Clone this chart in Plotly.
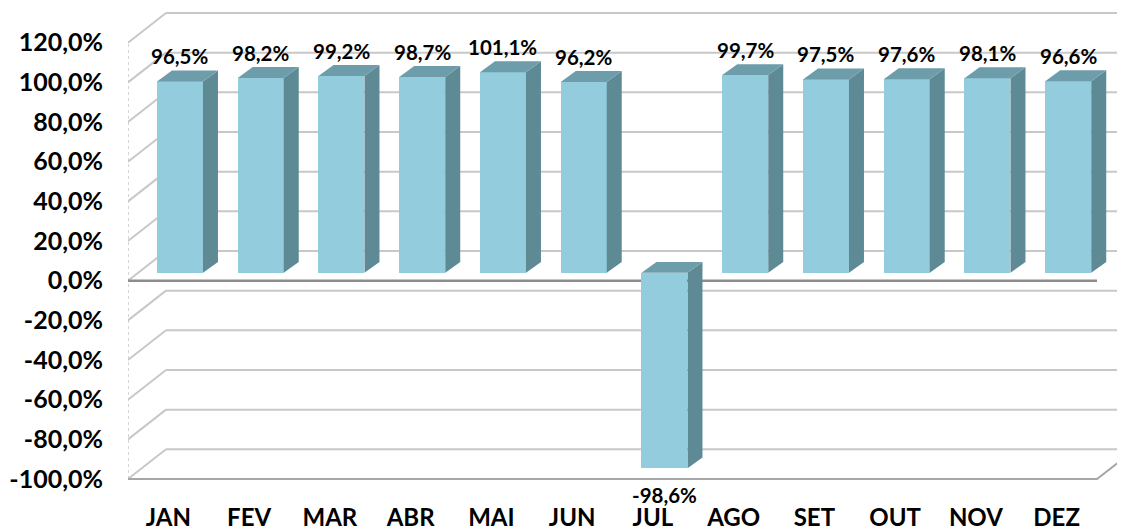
import plotly.graph_objects as go

months = ["JAN", "FEV", "MAR", "ABR", "MAI", "JUN", "JUL", "AGO", "SET", "OUT", "NOV", "DEZ"]
values = [96.5, 98.2, 99.2, 98.7, 101.1, 96.2, -98.6, 99.7, 97.5, 97.6, 98.1, 96.6]
value_labels = ["96,5%", "98,2%", "99,2%", "98,7%", "101,1%", "96,2%", "-98,6%",
                "99,7%", "97,5%", "97,6%", "98,1%", "96,6%"]
y_ticks = [-100, -80, -60, -40, -20, 0, 20, 40, 60, 80, 100, 120]
y_tick_labels = ["-100,0%", "-80,0%", "-60,0%", "-40,0%", "-20,0%", "0,0%",
                 "20,0%", "40,0%", "60,0%", "80,0%", "100,0%", "120,0%"]

# page offset of the figure (default body margin)
OFF = 8
W, H = 1125 - OFF, 531 - OFF
ML, MB = 128 - OFF, 41
ZERO_PX = 283 - OFF
PX_PER_CAT = 80.75
XMAX = (W - ML) / PX_PER_CAT
Y_TOP = ZERO_PX / 2.0
Y_BOT = -(H - MB - ZERO_PX) / 2.0
DX, DY = 38 / PX_PER_CAT, 15.0          # wall depth
BDX, BASE = 11.6 / PX_PER_CAT, 4.0      # bar front offset
BW = 46 / PX_PER_CAT                     # bar width
SDX, SDY = 15 / PX_PER_CAT, 5.5          # bar depth

FRONT = "#93CDDD"
TOP = "#6D9DAB"
SIDE = "#5E8A96"
GRID = "#C8C8C8"
FONT = "Lato"

fig = go.Figure()

# walls / gridlines
shapes = []
for v in y_ticks:
    shapes.append(dict(type="line", xref="x", yref="y", x0=DX, x1=XMAX + 1, y0=v + DY, y1=v + DY,
                       line=dict(color=GRID, width=2), layer="below"))
    shapes.append(dict(type="line", xref="x", yref="y", x0=0, x1=DX, y0=v, y1=v + DY,
                       line=dict(color=GRID, width=2), layer="below"))
shapes.append(dict(type="line", xref="x", yref="y", x0=0, x1=0, y0=y_ticks[0], y1=y_ticks[-1],
                   line=dict(color="#C8C8C8", width=1.5, dash="dot"), layer="below"))
ncat = len(months)
shapes.append(dict(type="path", xref="x", yref="y",
                   path=f"M 0 {y_ticks[0]} L {ncat} {y_ticks[0]} L {ncat + DX} {y_ticks[0] + DY}",
                   line=dict(color="#A6A6A6", width=2), layer="below"))
shapes.append(dict(type="line", xref="x", yref="y", x0=0, x1=ncat, y0=0, y1=0,
                   line=dict(color="#8C8C8C", width=2.5), layer="below"))

xs = [i + 0.5 + BDX for i in range(ncat)]

# side faces and top faces
for i, v in enumerate(values):
    xl = xs[i] - BW / 2
    xr = xs[i] + BW / 2
    lo = min(BASE, BASE + v)
    hi = max(BASE, BASE + v)
    fig.add_trace(go.Scatter(
        x=[xr, xr, xr + SDX, xr + SDX, xr], y=[lo, hi, hi + SDY, lo + SDY, lo],
        fill="toself", fillcolor=SIDE, mode="lines", line=dict(width=0, color=SIDE),
        hoverinfo="skip", showlegend=False))
    fig.add_trace(go.Scatter(
        x=[xl, xr, xr + SDX, xl + SDX, xl], y=[hi, hi, hi + SDY, hi + SDY, hi],
        fill="toself", fillcolor=TOP, mode="lines", line=dict(width=0, color=TOP),
        hoverinfo="skip", showlegend=False))

# front faces
fig.add_trace(go.Bar(x=xs, y=values, base=[BASE] * ncat, width=[BW] * ncat,
                     marker=dict(color=FRONT, line=dict(width=0)), showlegend=False))

# data labels (anchored at the bar end, shifted outward in pixels)
annotations = []
for i, v in enumerate(values):
    annotations.append(dict(x=xs[i], y=BASE + v, xref="x", yref="y", text=value_labels[i],
                            showarrow=False, xanchor="center", yanchor="middle",
                            yshift=25 if v >= 0 else -27,
                            font=dict(family=FONT, size=20.5, color="#000000", weight="bold")))

fig.update_layout(
    width=W, height=H,
    margin=dict(l=ML, r=0, t=0, b=MB),
    paper_bgcolor="white", plot_bgcolor="white",
    shapes=shapes,
    annotations=annotations,
    xaxis=dict(range=[0, XMAX], tickvals=[i + 0.5 for i in range(ncat)], ticktext=months,
               showgrid=False, zeroline=False, showline=False, ticks="",
               tickfont=dict(family=FONT, size=24, color="#000000", weight="bold"),
               ticklabelstandoff=15),
    yaxis=dict(range=[Y_BOT, Y_TOP], tickvals=y_ticks, ticktext=y_tick_labels,
               showgrid=False, zeroline=False, showline=False, ticks="",
               tickfont=dict(family=FONT, size=25, color="#000000", weight="bold"),
               ticklabelstandoff=24),
    bargap=0,
)

fig.write_html("out.html")
